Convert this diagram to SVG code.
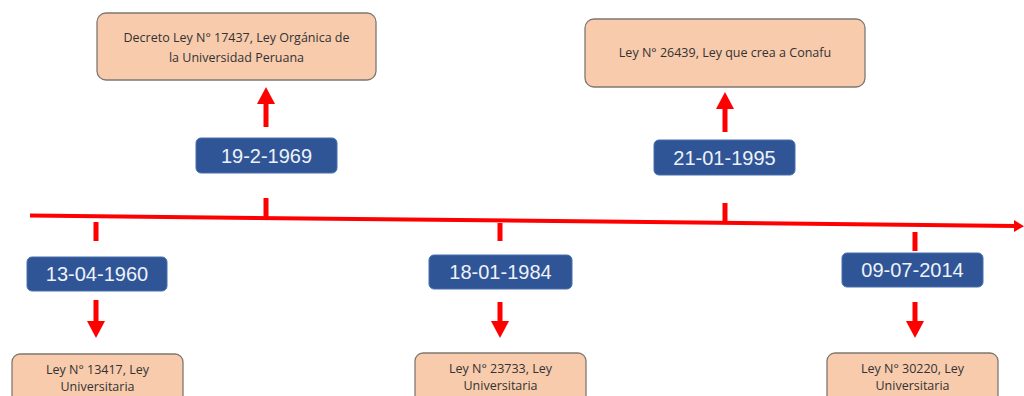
<svg xmlns="http://www.w3.org/2000/svg" width="1024" height="396" viewBox="0 0 1024 396">
<style>
.date rect{fill:#2F5597;stroke:#4a6fae;stroke-width:1}
.date text{font-family:"Liberation Sans",Arial,sans-serif;font-size:20px;fill:#eef2f8;text-anchor:middle}
.law rect{fill:#F8CBAD;stroke:#7f7770;stroke-width:1.3}
.law text{font-family:"Open Sans","Liberation Sans",sans-serif;font-size:12.5px;fill:#333333;text-anchor:middle}
.tick{stroke:#FF0000;stroke-width:5}
.arr{fill:#FF0000}
</style>
<rect width="1024" height="396" fill="#ffffff"/>
<g id="connectors">
<line x1="30" y1="215.5" x2="1016" y2="226" stroke="#FF0000" stroke-width="4"/>
<polygon class="arr" points="1014,220 1024,226.2 1014,232"/>
<line class="tick" x1="96" y1="222" x2="96" y2="241"/>
<line class="tick" x1="266" y1="198" x2="266" y2="218"/>
<line class="tick" x1="500" y1="223" x2="500" y2="241"/>
<line class="tick" x1="725" y1="203" x2="725" y2="223"/>
<line class="tick" x1="915" y1="232" x2="915" y2="251"/>
<line class="tick" x1="96" y1="300" x2="96" y2="323"/>
<polygon class="arr" points="87,321 105,321 96,338"/>
<line class="tick" x1="500" y1="302" x2="500" y2="323"/>
<polygon class="arr" points="491,321 509,321 500,338"/>
<line class="tick" x1="915" y1="302" x2="915" y2="323"/>
<polygon class="arr" points="906,321 924,321 915,338"/>
<line class="tick" x1="266" y1="127" x2="266" y2="102"/>
<polygon class="arr" points="257,104 275,104 266,87"/>
<line class="tick" x1="725" y1="132" x2="725" y2="107"/>
<polygon class="arr" points="716,109 734,109 725,92"/>
</g>
<g id="d1960" class="date"><rect x="27" y="257" width="140" height="34" rx="5"/><text x="97" y="281">13-04-1960</text></g>
<g id="d1969" class="date"><rect x="196" y="138" width="141" height="35" rx="5"/><text x="266.5" y="162.5">19-2-1969</text></g>
<g id="d1984" class="date"><rect x="429" y="255" width="143" height="34" rx="5"/><text x="500.5" y="279">18-01-1984</text></g>
<g id="d1995" class="date"><rect x="654" y="140" width="141" height="35" rx="5"/><text x="724.5" y="164.5">21-01-1995</text></g>
<g id="d2014" class="date"><rect x="842" y="253" width="141" height="34" rx="5"/><text x="912.5" y="277">09-07-2014</text></g>
<g id="l1969" class="law"><rect x="97" y="13" width="279" height="67" rx="9"/><text x="236.5" y="42">Decreto Ley N° 17437, Ley Orgánica de</text><text x="236.5" y="62">la Universidad Peruana</text></g>
<g id="l1995" class="law"><rect x="585" y="19" width="280" height="68" rx="9"/><text x="725" y="57">Ley N° 26439, Ley que crea a Conafu</text></g>
<g id="l1960" class="law"><rect x="12" y="354" width="171" height="60" rx="8"/><text x="97.5" y="374">Ley N° 13417, Ley</text><text x="97.5" y="391">Universitaria</text></g>
<g id="l1984" class="law"><rect x="415" y="353" width="171" height="60" rx="8"/><text x="500.5" y="373">Ley N° 23733, Ley</text><text x="500.5" y="390">Universitaria</text></g>
<g id="l2014" class="law"><rect x="827" y="353" width="171" height="60" rx="8"/><text x="912.5" y="373">Ley N° 30220, Ley</text><text x="912.5" y="390">Universitaria</text></g>
</svg>
